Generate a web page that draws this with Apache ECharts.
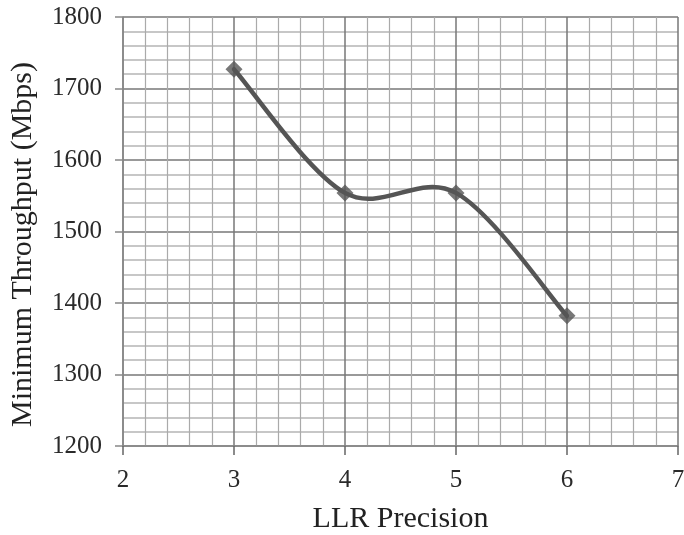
<!DOCTYPE html>
<html>
<head>
<meta charset="utf-8">
<script src="https://cdn.jsdelivr.net/npm/echarts@6/dist/echarts.min.js"></script>
<style>html,body{margin:0;padding:0;background:#fff}#c{width:684px;height:535px}</style>
</head>
<body>
<div id="c"></div>
<script>
const precision = [3, 4, 5, 6];
const throughput = [1727, 1554, 1554, 1382];
const xTitle = 'LLR Precision';
const yTitle = 'Minimum Throughput (Mbps)';

const chart = echarts.init(document.getElementById('c'), null, {renderer: 'canvas'});
const font = '"Liberation Serif", "Times New Roman", serif';
const points = precision.map((x, i) => [x, throughput[i]]);

// Excel-style smoothed curve (Catmull-Rom converted to Bezier), through the axis scales
function renderCurve(params, api) {
  if (params.dataIndex !== 0) return null;
  const p = points.map(v => api.coord(v));
  const n = p.length;
  let d = 'M' + p[0][0] + ' ' + p[0][1];
  for (let i = 0; i < n - 1; i++) {
    const p0 = p[Math.max(i - 1, 0)], p1 = p[i], p2 = p[i + 1], p3 = p[Math.min(i + 2, n - 1)];
    const c1 = [p1[0] + (p2[0] - p0[0]) / 6, p1[1] + (p2[1] - p0[1]) / 6];
    const c2 = [p2[0] - (p3[0] - p1[0]) / 6, p2[1] - (p3[1] - p1[1]) / 6];
    d += ' C' + c1[0] + ' ' + c1[1] + ' ' + c2[0] + ' ' + c2[1] + ' ' + p2[0] + ' ' + p2[1];
  }
  return {
    type: 'path',
    shape: {pathData: d},
    style: {fill: null, stroke: '#555', lineWidth: 4.5, lineJoin: 'round', lineCap: 'round'}
  };
}

chart.setOption({
  animation: false,
  backgroundColor: '#fff',
  grid: {left: 123, right: 6, top: 17, bottom: 89, containLabel: false, outerBoundsMode: 'none'},
  xAxis: {
    type: 'value', min: 2, max: 7, interval: 1,
    name: xTitle, nameLocation: 'middle', nameGap: 58,
    nameTextStyle: {fontFamily: font, fontSize: 30, color: '#222'},
    axisLine: {show: true, lineStyle: {color: '#888', width: 1.5}},
    axisTick: {show: true, length: 9, lineStyle: {color: '#666', width: 1.5}},
    axisLabel: {fontFamily: font, fontSize: 25, color: '#2a2a2a', margin: 22, formatter: v => String(v)},
    splitLine: {show: true, lineStyle: {color: '#777', width: 1.5}},
    minorTick: {show: false, splitNumber: 5},
    minorSplitLine: {show: true, lineStyle: {color: '#aaa', width: 1.2}}
  },
  yAxis: {
    type: 'value', min: 1200, max: 1800, interval: 100,
    name: yTitle, nameLocation: 'middle', nameGap: 85, nameRotate: 90,
    nameTextStyle: {fontFamily: font, fontSize: 30, color: '#222', padding: [0, 26, 0, 0]},
    axisLine: {show: true, lineStyle: {color: '#888', width: 1.5}},
    axisTick: {show: true, length: 8, lineStyle: {color: '#888', width: 1.5}},
    axisLabel: {fontFamily: font, fontSize: 25, color: '#2a2a2a', margin: 21, formatter: v => String(v)},
    splitLine: {show: true, lineStyle: {color: '#999', width: 2}},
    minorTick: {show: false, splitNumber: 5},
    minorSplitLine: {show: true, lineStyle: {color: '#b5b5b5', width: 1.5}}
  },
  series: [{
    type: 'custom',
    renderItem: renderCurve,
    data: points,
    z: 2
  }, {
    type: 'scatter',
    data: points,
    symbol: 'diamond', symbolSize: 17,
    itemStyle: {color: '#555'},
    z: 3
  }]
});
</script>
</body>
</html>
